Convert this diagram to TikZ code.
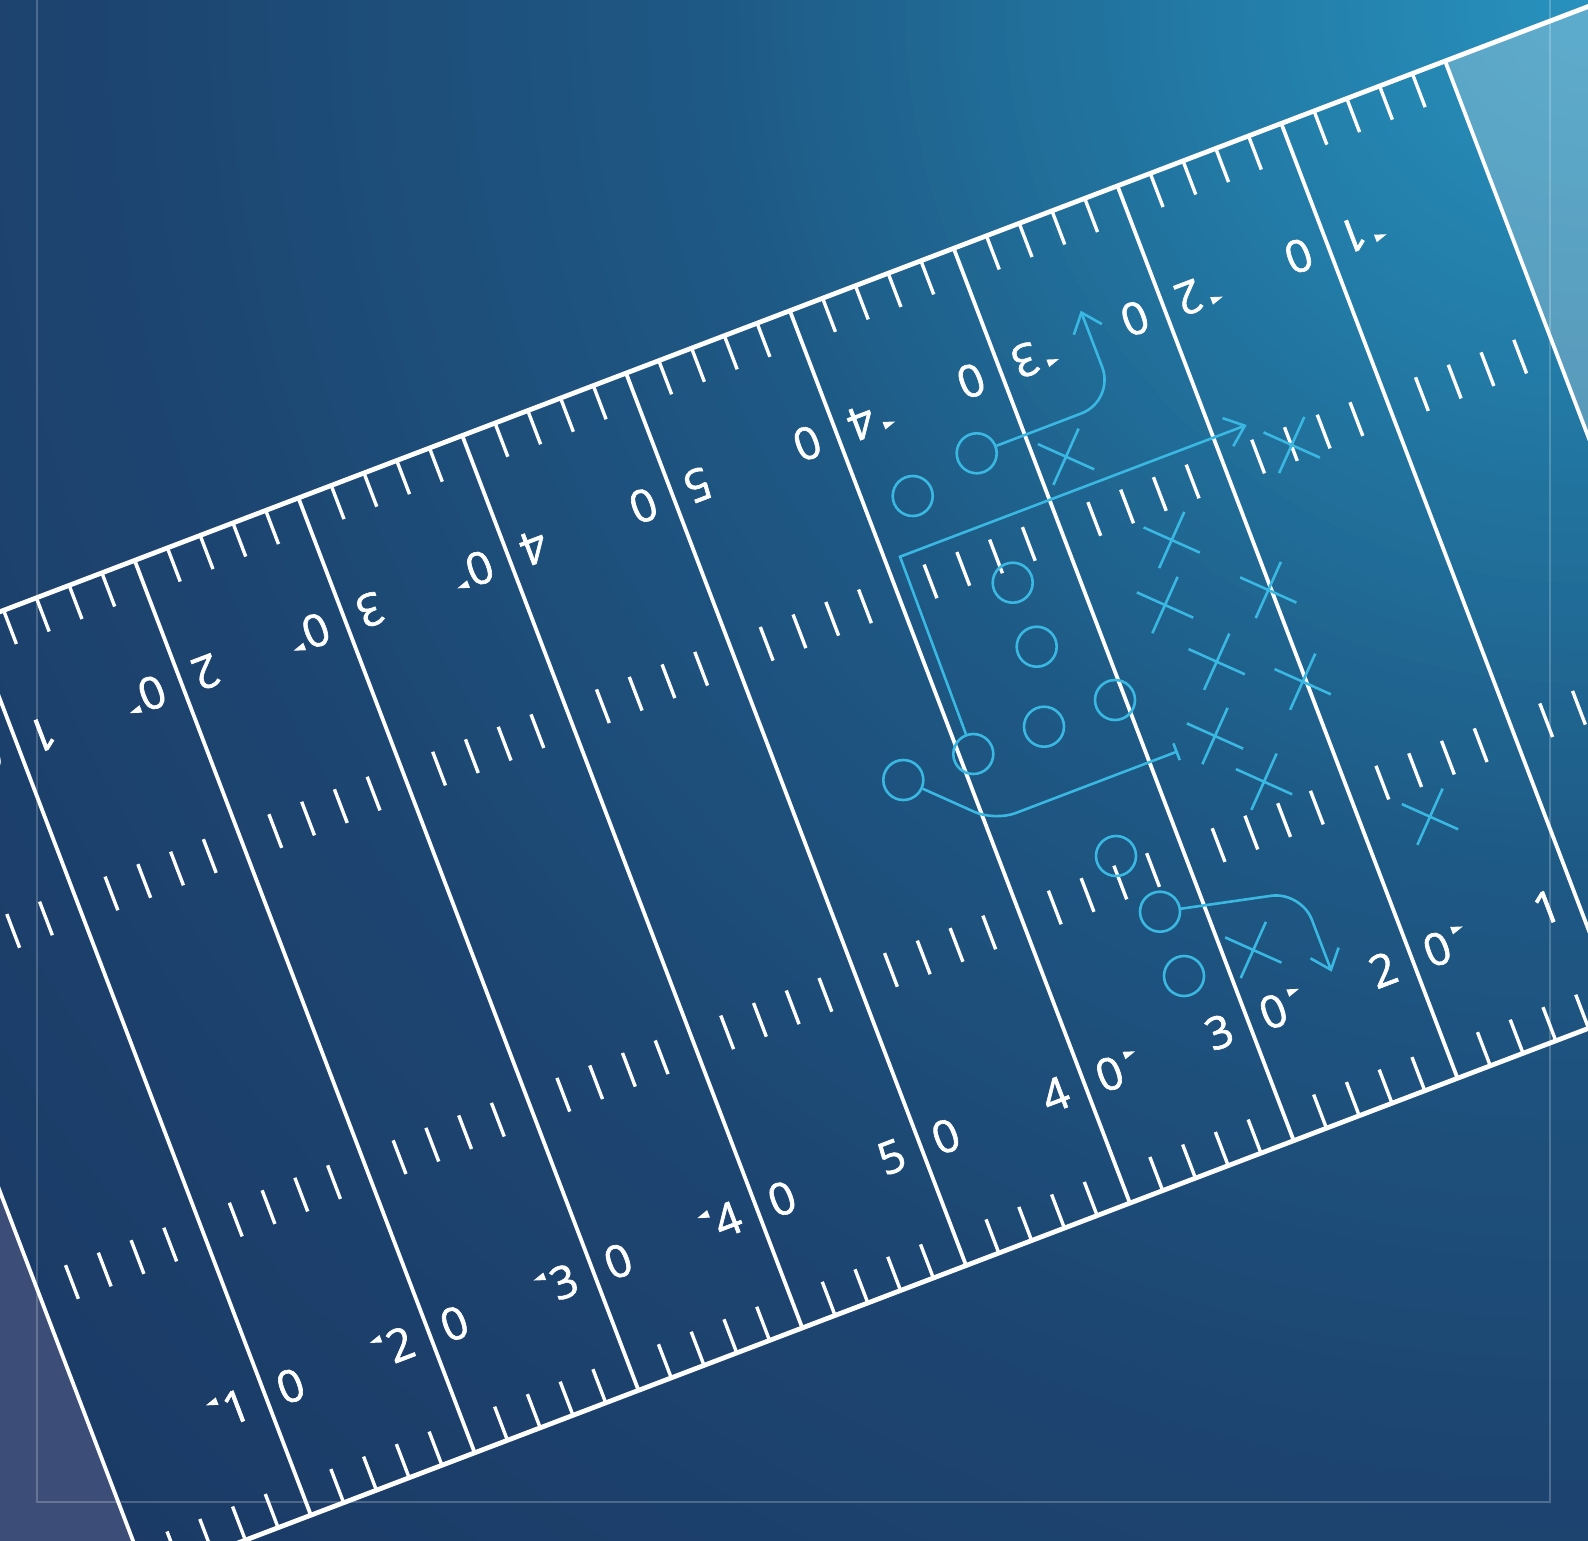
\documentclass[tikz,border=0pt]{standalone}
\usepackage{fontspec}
\setmainfont{Open Sans}
\newfontfamily\numfont{Open Sans}[FakeBold=1.4]
\usetikzlibrary{arrows.meta,shapes.misc}

\definecolor{play}{RGB}{58,184,226}
\definecolor{ezleft}{RGB}{60,78,120}
\definecolor{bg0}{RGB}{40,146,190}
\definecolor{bg1}{RGB}{34,122,165}
\definecolor{bg2}{RGB}{30,88,132}
\definecolor{bg3}{RGB}{29,68,112}
\definecolor{bg4}{RGB}{26,57,100}

\tikzset{
  sideline/.style={white, line width=4.8pt},
  yardline/.style={white, line width=3.8pt},
  hashmark/.style={white, line width=3.4pt},
  num/.style={transform shape, inner sep=0pt, text=white, font=\numfont\fontsize{45}{45}\selectfont},
  player/.style={circle, draw=play, line width=2.6pt, minimum size=40pt, inner sep=0pt},
  defender/.style={cross out, draw=play, line width=2.6pt, minimum size=41pt, inner sep=0pt, rotate=20.86},
  route/.style={draw=play, line width=2.6pt},
  routetip/.style={-{Straight Barb[length=18pt,width=30pt]}},
  frameline/.style={white, opacity=0.22, line width=2pt}
}

\begin{document}
\begin{tikzpicture}[x=1pt,y=-1pt]
\useasboundingbox (0,0) rectangle (1588,1540);
% background: radial gradient from the top right corner
\begin{scope}
  \clip (0,0) rectangle (1588,1540);
  \fill[bg4] (0,0) rectangle (1588,1540);
  \foreach \ra/\rb/\ca/\cb in {1500/2250/bg3/bg4, 900/1500/bg2/bg3, 400/900/bg1/bg2, 0/400/bg0/bg1} {
    \foreach \i in {0,...,29} {
      \pgfmathsetmacro\rr{\rb-(\rb-\ra)/30*\i}
      \pgfmathsetmacro\pp{100-\i*10/3}
      \colorlet{bgtmp}{\cb!\pp!\ca}
      \fill[bgtmp] (1588,0) circle[radius=\rr];
    }
  }
\end{scope}

% field (local coordinates: u along the field, v across it)
\begin{scope}[shift={(0,611.7)}, rotate=20.86]
  % end zones
  \fill[ezleft] (-800,0) rectangle (-206.5,955);
  \fill[white, opacity=0.25] (1546.3,0) rectangle (2100,955);
  % yard lines
  \foreach \k in {-1,...,9} {
    \pgfmathsetmacro\T{144.1+(\k-1)*175.3}
    \draw[yardline] (\T,0) -- (\T,955);
  }
  % hash marks
  \foreach \k in {-1,...,8} {
    \foreach \j in {1,...,4} {
      \pgfmathsetmacro\uu{144.1+(\k-1)*175.3+\j*35.06}
      \draw[hashmark] (\uu,0) -- (\uu,36);
      \draw[hashmark] (\uu,919) -- (\uu,955);
      \draw[hashmark] (\uu,285) -- (\uu,321);
      \draw[hashmark] (\uu,634) -- (\uu,670);
    }
  }
  % sidelines
  \draw[sideline] (-800,0) -- (2100,0);
  \draw[sideline] (-800,955) -- (2100,955);
  % numbers
  \foreach \k/\d in {0/1,1/2,2/3,3/4,4/5,5/4,6/3,7/2,8/1} {
    \pgfmathsetmacro\T{144.1+(\k-1)*175.3}
    \node[num] (b\k-l) at (\T-31,827) {\d};
    \node[num] (b\k-r) at (\T+27,827) {0};
    \node[num, rotate=180] (t\k-l) at (\T-31,130) {0};
    \node[num, rotate=180] (t\k-r) at (\T+27,130) {\d};
  }
  % direction arrows
  \foreach \k in {0,...,3} {
    \pgfmathsetmacro\T{144.1+(\k-1)*175.3}
    \fill[white] (\T-59,815) -- (\T-47,811) -- (\T-47,819) -- cycle;
    \fill[white] (\T-59,141) -- (\T-47,137) -- (\T-47,145) -- cycle;
  }
  \foreach \k in {5,...,8} {
    \pgfmathsetmacro\T{144.1+(\k-1)*175.3}
    \fill[white] (\T+59,815) -- (\T+47,811) -- (\T+47,819) -- cycle;
    \fill[white] (\T+59,141) -- (\T+47,137) -- (\T+47,145) -- cycle;
  }
\end{scope}

% frame
\draw[frameline] (37,-10) -- (37,1502) -- (1550,1502) -- (1550,-10);

% offense
\node[player] (o1) at (976.7,453.3) {};
\node[player] (o2) at (912.7,496) {};
\node[player] (o3) at (1012.7,582.7) {};
\node[player] (o4) at (1036.7,646.7) {};
\node[player] (o5) at (1115,700) {};
\node[player] (o6) at (1044,726.7) {};
\node[player] (o7) at (973.3,754) {};
\node[player] (o8) at (903.3,780) {};
\node[player] (o9) at (1116,856) {};
\node[player] (o10) at (1160,911.7) {};
\node[player] (o11) at (1184,976) {};

% defense
\node[defender] (x1) at (1066,456.7) {};
\node[defender] (x2) at (1291.7,445) {};
\node[defender] (x3) at (1171.7,540) {};
\node[defender] (x4) at (1165,605) {};
\node[defender] (x5) at (1268.3,590) {};
\node[defender] (x6) at (1216.7,661.7) {};
\node[defender] (x7) at (1302.7,681.7) {};
\node[defender] (x8) at (1215,736) {};
\node[defender] (x9) at (1264,781.7) {};
\node[defender] (x10) at (1430,816.7) {};
\node[defender] (x11) at (1253.3,950) {};

% routes
\coordinate (r1c) at (1115,400.6);
\coordinate (r1e) at (1080.7,310.7);
\draw[route, routetip, rounded corners=36pt] (o1) -- (r1c) -- (r1e);

\coordinate (r2c) at (900,556.7);
\coordinate (r2e) at (1246.7,425);
\draw[route, routetip] (o7) -- (r2c) -- (r2e);

\coordinate (r3c) at (994.8,821);
\coordinate (r3e) at (1177.8,751.3);
\draw[route, -{Bar[width=18pt]}, rounded corners=22pt] (o8) -- (r3c) -- (r3e);

\coordinate (r4c) at (1301.1,891.5);
\coordinate (r4e) at (1331.7,971.7);
\draw[route, routetip, rounded corners=30pt] (o10) -- (r4c) -- (r4e);
\end{tikzpicture}
\end{document}
